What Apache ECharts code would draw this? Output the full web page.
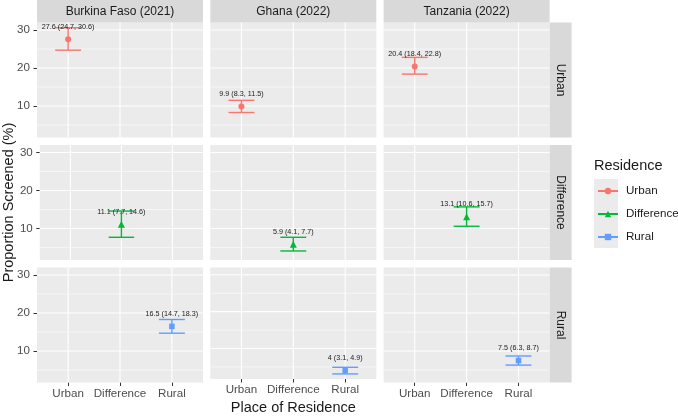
<!DOCTYPE html>
<html><head><meta charset="utf-8">
<script src="https://cdn.jsdelivr.net/npm/echarts@6/dist/echarts.min.js"></script>
<style>html,body{margin:0;padding:0;background:#fff}#c{width:678px;height:416px}</style>
</head><body><div id="c"></div>
<script>
// ---- data ----
const countries = ['Burkina Faso (2021)', 'Ghana (2022)', 'Tanzania (2022)'];
const residences = ['Urban', 'Difference', 'Rural'];
const urbanEst  = [27.6, 9.9, 20.4];
const urbanLow  = [24.7, 8.3, 18.4];
const urbanHigh = [30.6, 11.5, 22.8];
const diffEst   = [11.1, 5.9, 13.1];
const diffLow   = [7.7, 4.1, 10.6];
const diffHigh  = [14.6, 7.7, 15.7];
const ruralEst  = [16.5, 4, 7.5];
const ruralLow  = [14.7, 3.1, 6.3];
const ruralHigh = [18.3, 4.9, 8.7];
const yTicks = [10, 20, 30];
const yMinorTicks = [5, 15, 25];
const xTicks = [1, 2, 3];

// ---- styling / layout ----
const FONT = '"Liberation Sans", Arial, sans-serif';
const colors = ['#F8766D', '#00BA38', '#619CFF'];
const symbols = ['circle', 'triangle', 'rect'];
const symbolSizes = [6, 7, 5.5];
const yMin = 1.725, yMax = 31.975;   // ggplot-expanded range
const xMin = 0.4, xMax = 3.6;
const capHalf = 0.25;
const labelOffset = 3.3;
const L0 = 37, PW = 166, GAPX = 7.3;
const TOP0 = 22.5, PH = 115, GAPY = 7.5;
const STRIP = 22;

const estRows = [urbanEst, diffEst, ruralEst];
const lowRows = [urbanLow, diffLow, ruralLow];
const highRows = [urbanHigh, diffHigh, ruralHigh];

const grids = [], xAxes = [], yAxes = [], lineSeries = [], customSeries = [], graphics = [];

for (let r = 0; r < 3; r++) {
  for (let c = 0; c < 3; c++) {
    const gi = r * 3 + c;
    const left = L0 + c * (PW + GAPX);
    const top = TOP0 + r * (PH + GAPY);
    grids.push({left: left, top: top, width: PW, height: PH, show: true,
      backgroundColor: '#EBEBEB', borderWidth: 0, containLabel: false});
    const bottom = r === 2, leftCol = c === 0;
    xAxes.push({
      type: 'value', gridIndex: gi, min: xMin, max: xMax,
      axisLine: {show: false}, splitLine: {show: false},
      axisTick: {show: bottom, customValues: xTicks, length: 3.5, lineStyle: {color: '#333333', width: 1}},
      axisLabel: {show: bottom, customValues: xTicks, margin: 5, fontSize: 11.6, color: '#4D4D4D', fontFamily: FONT,
        formatter: v => residences[Math.round(v) - 1] || ''},
      name: (bottom && c === 1) ? 'Place of Residence' : '',
      nameLocation: 'middle', nameGap: 21,
      nameTextStyle: {fontSize: 14.5, color: '#1A1A1A', fontFamily: FONT}
    });
    yAxes.push({
      type: 'value', gridIndex: gi, min: yMin, max: yMax,
      axisLine: {show: false}, splitLine: {show: false},
      axisTick: {show: leftCol, customValues: yTicks, length: 3.5, lineStyle: {color: '#333333', width: 1}},
      axisLabel: {show: leftCol, customValues: yTicks, margin: 7, fontSize: 11.6, color: '#4D4D4D', fontFamily: FONT},
      name: (leftCol && r === 1) ? 'Proportion Screened (%)' : '',
      nameLocation: 'middle', nameGap: 22, nameRotate: 90,
      nameTextStyle: {fontSize: 14.5, color: '#1A1A1A', fontFamily: FONT}
    });
    // grid lines
    customSeries.push({
      type: 'custom', xAxisIndex: gi, yAxisIndex: gi, silent: true, z: 1,
      data: [[xMin, yMin]],
      renderItem: function (params, api) {
        const cs = params.coordSys;
        const ch = [];
        yMinorTicks.forEach(v => {
          const y = api.coord([xMin, v])[1];
          ch.push({type: 'line', shape: {x1: cs.x, y1: y, x2: cs.x + cs.width, y2: y}, style: {stroke: '#FFFFFF', lineWidth: 0.55}});
        });
        yTicks.forEach(v => {
          const y = api.coord([xMin, v])[1];
          ch.push({type: 'line', shape: {x1: cs.x, y1: y, x2: cs.x + cs.width, y2: y}, style: {stroke: '#FFFFFF', lineWidth: 1.1}});
        });
        xTicks.forEach(v => {
          const x = api.coord([v, yMin])[0];
          ch.push({type: 'line', shape: {x1: x, y1: cs.y, x2: x, y2: cs.y + cs.height}, style: {stroke: '#FFFFFF', lineWidth: 1.1}});
        });
        return {type: 'group', children: ch};
      }
    });
    // point
    const xpos = r + 1;
    lineSeries.push({
      type: 'line', name: residences[r], xAxisIndex: gi, yAxisIndex: gi, z: 4,
      data: [[xpos, estRows[r][c]]],
      symbol: symbols[r], symbolSize: symbolSizes[r], showSymbol: true,
      itemStyle: {color: colors[r]}, lineStyle: {color: colors[r], width: 1.5},
      label: {show: false}, animation: false
    });
    // error bar + label
    customSeries.push({
      type: 'custom', name: residences[r], xAxisIndex: gi, yAxisIndex: gi, z: 3,
      data: [[xpos, estRows[r][c], lowRows[r][c], highRows[r][c]]],
      itemStyle: {color: colors[r]},
      renderItem: function (params, api) {
        const x = api.value(0), est = api.value(1), lo = api.value(2), hi = api.value(3);
        const pLo = api.coord([x, lo]), pHi = api.coord([x, hi]);
        const l1 = api.coord([x - capHalf, lo]), l2 = api.coord([x + capHalf, lo]);
        const h1 = api.coord([x - capHalf, hi]), h2 = api.coord([x + capHalf, hi]);
        const t = api.coord([x, est + labelOffset]);
        const st = {stroke: colors[r], lineWidth: 1.4};
        return {type: 'group', children: [
          {type: 'line', shape: {x1: pLo[0], y1: pLo[1], x2: pHi[0], y2: pHi[1]}, style: st},
          {type: 'line', shape: {x1: l1[0], y1: l1[1], x2: l2[0], y2: l2[1]}, style: st},
          {type: 'line', shape: {x1: h1[0], y1: h1[1], x2: h2[0], y2: h2[1]}, style: st},
          {type: 'text', x: t[0], y: t[1], z2: 10, style: {text: est + ' (' + lo + ', ' + hi + ')',
            fill: '#1A1A1A', fontSize: 7.2, fontFamily: FONT, align: 'center', verticalAlign: 'middle'}}
        ]};
      }
    });
  }
}

// strips
for (let c = 0; c < 3; c++) {
  const left = L0 + c * (PW + GAPX);
  graphics.push({type: 'rect', shape: {x: left, y: 0, width: PW, height: TOP0}, style: {fill: '#D9D9D9'}, silent: true});
  graphics.push({type: 'text', x: left + PW / 2, y: TOP0 / 2 + 0.5, silent: true,
    style: {text: countries[c], fontSize: 12, fontFamily: FONT, fill: '#1A1A1A', align: 'center', verticalAlign: 'middle'}});
}
const stripX = L0 + 2 * (PW + GAPX) + PW;
for (let r = 0; r < 3; r++) {
  const top = TOP0 + r * (PH + GAPY);
  graphics.push({type: 'rect', shape: {x: stripX, y: top, width: STRIP, height: PH}, style: {fill: '#D9D9D9'}, silent: true});
  graphics.push({type: 'text', x: stripX + STRIP / 2, y: top + PH / 2, rotation: -Math.PI / 2, silent: true,
    style: {text: residences[r], fontSize: 12, fontFamily: FONT, fill: '#1A1A1A', align: 'center', verticalAlign: 'middle'}});
}
// legend key background
graphics.push({type: 'rect', shape: {x: 594, y: 179, width: 24, height: 69}, style: {fill: '#EBEBEB'}, silent: true, z: -1});

const chart = echarts.init(document.getElementById('c'), null, {renderer: 'canvas'});
chart.setOption({
  animation: false,
  textStyle: {fontFamily: FONT},
  title: {text: 'Residence', left: 594, top: 158, textStyle: {fontSize: 14.5, fontWeight: 'normal', color: '#1A1A1A', fontFamily: FONT}, padding: 0},
  legend: {data: residences, orient: 'vertical', left: 597, top: 184, itemWidth: 20, itemHeight: 8, itemGap: 9,
    textStyle: {fontSize: 11.6, color: '#1A1A1A', fontFamily: FONT, lineHeight: 14, padding: [0, 0, 0, 3]}, padding: 0},
  grid: grids, xAxis: xAxes, yAxis: yAxes,
  series: lineSeries.concat(customSeries),
  graphic: graphics
});
</script></body></html>
